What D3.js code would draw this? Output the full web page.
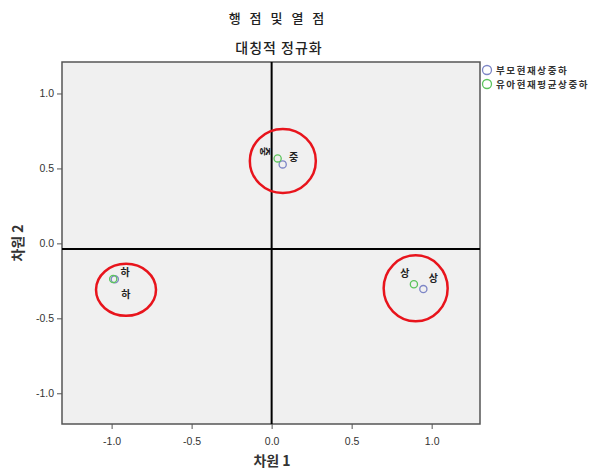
<!DOCTYPE html>
<html>
<head>
<meta charset="utf-8">
<script src="https://cdn.jsdelivr.net/npm/d3@7"></script>
<style>
  body { margin: 0; background: #fff; }
  text { font-family: "Liberation Sans", Arial, sans-serif; }
  .kr { font-family: "Noto Sans CJK KR", "Noto Sans", sans-serif; }
</style>
</head>
<body>
<div id="chart"></div>
<script>
// Category labels and coordinates (dimension 1, dimension 2)
const categories = ["상", "중", "하"];
const parentX = [0.948, 0.069, -0.98];
const parentY = [-0.305, 0.527, -0.24];
const childX = [0.889, 0.0375, -0.99];
const childY = [-0.273, 0.567, -0.237];

const seriesNames = ["부모현재상중하", "유아현재평균상중하"];
const xTicks = [-1.0, -0.5, 0.0, 0.5, 1.0];
const yTicks = [-1.0, -0.5, 0.0, 0.5, 1.0];

// Hand-drawn red circles around each group (data units)
const markCx = [0.07, -0.91, 0.9];
const markCy = [0.55, -0.31, -0.3];

const width = 596, height = 471;
const plot = {left: 62, right: 480, top: 62, bottom: 424};

const svg = d3.select("#chart").append("svg")
    .attr("width", width)
    .attr("height", height);

const x = d3.scaleLinear().domain([-1.31, 1.302]).range([plot.left, plot.right]);
const y = d3.scaleLinear().domain([-1.205, 1.21]).range([plot.bottom, plot.top]);

// plain hyphen minus like SPSS
const fmt = d => d3.format(".1f")(d).replace("−", "-");

// Titles
svg.append("text").attr("class", "kr")
    .attr("x", 278).attr("y", 23)
    .attr("text-anchor", "middle")
    .attr("font-size", 13).attr("font-weight", 500)
    .attr("letter-spacing", "3px")
    .attr("fill", "#222")
    .text("행 점 및 열 점");

svg.append("text").attr("class", "kr")
    .attr("x", 279).attr("y", 53)
    .attr("text-anchor", "middle")
    .attr("font-size", 14).attr("font-weight", 500)
    .attr("letter-spacing", "1px")
    .attr("fill", "#222")
    .text("대칭적 정규화");

// Plot area
svg.append("rect")
    .attr("x", plot.left).attr("y", plot.top)
    .attr("width", plot.right - plot.left)
    .attr("height", plot.bottom - plot.top)
    .attr("fill", "#f0f0f0")
    .attr("stroke", "#555")
    .attr("stroke-width", 1.5);

// Axes
const xAxis = svg.append("g")
    .attr("transform", `translate(0,${plot.bottom})`)
    .call(d3.axisBottom(x).tickValues(xTicks).tickFormat(fmt).tickSize(5).tickSizeOuter(0));
const yAxis = svg.append("g")
    .attr("transform", `translate(${plot.left},0)`)
    .call(d3.axisLeft(y).tickValues(yTicks).tickFormat(fmt).tickSize(5).tickSizeOuter(0));

[xAxis, yAxis].forEach(g => {
    g.select(".domain").remove();
    g.selectAll("line").attr("stroke", "#555");
    g.selectAll("text").attr("font-size", 10.5).attr("fill", "#333")
        .attr("font-family", "Liberation Sans, Arial, sans-serif");
});
xAxis.selectAll("text").attr("dy", "1.2em");

// Reference lines
svg.append("line")
    .attr("x1", x(0)).attr("x2", x(0))
    .attr("y1", plot.top).attr("y2", plot.bottom)
    .attr("stroke", "#000").attr("stroke-width", 2);
svg.append("line")
    .attr("x1", plot.left).attr("x2", plot.right)
    .attr("y1", y(-0.037)).attr("y2", y(-0.037))
    .attr("stroke", "#000").attr("stroke-width", 2);

// Axis titles
svg.append("text").attr("class", "kr")
    .attr("x", 272).attr("y", 466)
    .attr("text-anchor", "middle")
    .attr("font-size", 14).attr("font-weight", "bold")
    .attr("fill", "#333")
    .text("차원 1");
svg.append("text").attr("class", "kr")
    .attr("transform", `translate(23,243) rotate(-90)`)
    .attr("text-anchor", "middle")
    .attr("font-size", 14).attr("font-weight", "bold")
    .attr("fill", "#333")
    .text("차원 2");

// Points
const colors = ["#7d86c6", "#5cc45c"];
const series = [
    categories.map((c, i) => ({label: c, x: parentX[i], y: parentY[i]})),
    categories.map((c, i) => ({label: c, x: childX[i], y: childY[i]}))
];

series.forEach((pts, si) => {
    svg.append("g").selectAll("circle")
        .data(pts)
        .join("circle")
        .attr("cx", d => x(d.x))
        .attr("cy", d => y(d.y))
        .attr("r", 3.6)
        .attr("fill", "none")
        .attr("stroke", colors[si])
        .attr("stroke-width", 1.3);
});

// Point labels (placed as SPSS did)
const labelPos = [
    // parent series
    [{dx: 10, dy: -12}, {dx: 11, dy: -8}, {dx: 11, dy: 14}],
    // child series
    [{dx: -9, dy: -12}, {dx: -12, dy: -7, rot: true}, {dx: 12, dy: -7}]
];
series.forEach((pts, si) => {
    pts.forEach((d, i) => {
        const p = labelPos[si][i];
        const t = svg.append("text").attr("class", "kr")
            .attr("font-size", 10).attr("font-weight", "bold")
            .attr("fill", "#222")
            .attr("text-anchor", "middle")
            .attr("dominant-baseline", "central")
            .text(d.label);
        if (p.rot) {
            t.attr("transform", `translate(${x(d.x) + p.dx},${y(d.y) + p.dy}) rotate(90)`);
        } else {
            t.attr("x", x(d.x) + p.dx).attr("y", y(d.y) + p.dy);
        }
    });
});

// Red annotation circles
svg.append("g").selectAll("ellipse")
    .data(markCx.map((cx, i) => ({cx, cy: markCy[i]})))
    .join("ellipse")
    .attr("cx", d => x(d.cx))
    .attr("cy", d => y(d.cy))
    .attr("rx", (d, i) => [33, 30, 32][i])
    .attr("ry", (d, i) => [32, 26, 33][i])
    .attr("fill", "none")
    .attr("stroke", "#e8141c")
    .attr("stroke-width", 2.5);

// Legend
const legend = svg.append("g").attr("transform", "translate(487,70)");
seriesNames.forEach((name, i) => {
    legend.append("circle")
        .attr("cx", 0).attr("cy", i * 14)
        .attr("r", 4.5)
        .attr("fill", "none")
        .attr("stroke", colors[i])
        .attr("stroke-width", 1.3);
    legend.append("text").attr("class", "kr")
        .attr("x", 9).attr("y", i * 14)
        .attr("dominant-baseline", "central")
        .attr("font-size", 9.5).attr("font-weight", "bold")
        .attr("letter-spacing", "1.6px")
        .attr("fill", "#333")
        .text(name);
});
</script>
</body>
</html>
